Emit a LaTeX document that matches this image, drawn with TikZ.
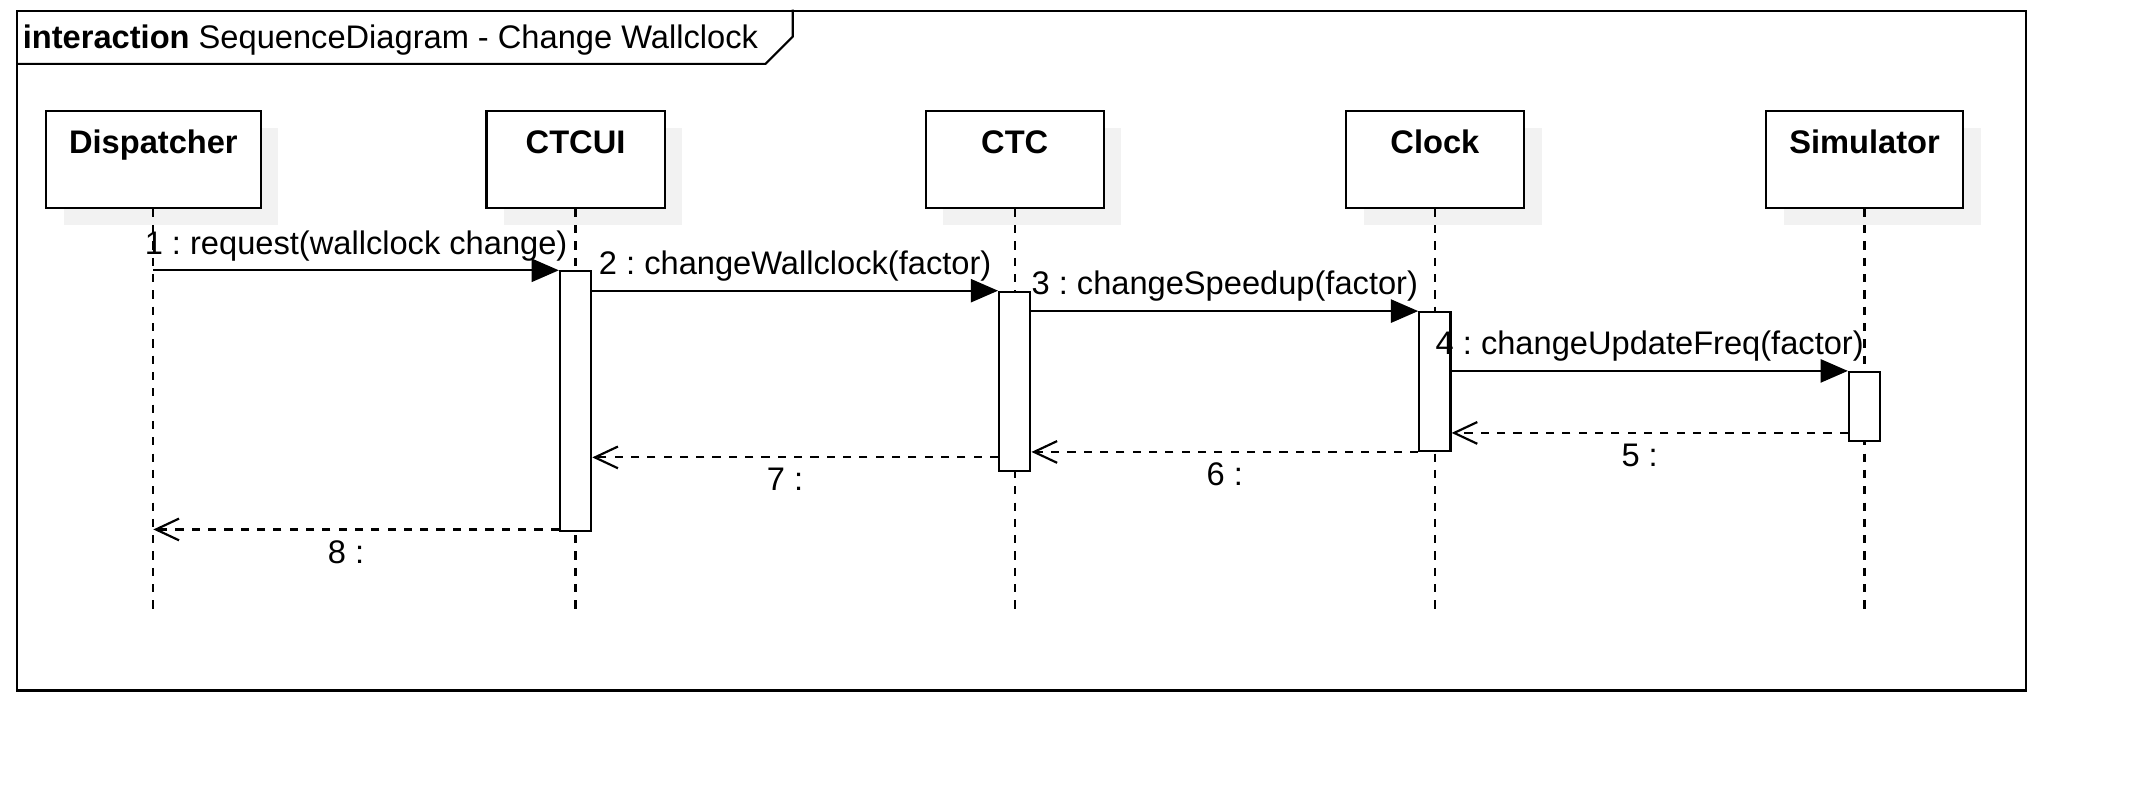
\documentclass[tikz,border=0pt]{standalone}
\usepackage{fontspec}
\setmainfont{Liberation Sans}
\usepackage{tikz}
\usetikzlibrary{positioning, arrows.meta, shadows}
\definecolor{shadowGrey}{HTML}{F2F2F2}
\frenchspacing

\begin{document}
\begin{tikzpicture}[font=\fontsize{12pt}{14pt}\selectfont, line width=0.8pt,
  lifebox/.style={draw, fill=white, minimum height=35.5pt, drop shadow={shadow xshift=6.5pt, shadow yshift=-6.25pt, fill=shadowGrey, opacity=1}},
  lifename/.style={anchor=base, inner sep=0pt, font=\fontsize{12pt}{14pt}\selectfont\bfseries},
  actbox/.style={draw, fill=white, minimum width=11.5pt, inner sep=0pt},
  lifeline/.style={dashed},
  call/.style={-{Triangle[length=10pt, width=8.5pt]}},
  reply/.style={dashed, -{Straight Barb[length=8.5pt, width=8pt]}}]
  \useasboundingbox (0,0) rectangle (784pt,-296pt);
  % frame
  \node[draw, inner sep=0pt, minimum width=738.5pt, minimum height=250pt, anchor=north west] (frame) at (6pt,-3.5pt) {};
  \draw (frame.north west) ++(0,-20pt) -- ++(275.5pt,0) -- ++(10pt,10pt) -- ++(0,10pt);
  \node[anchor=base west, inner sep=0pt] (title) at ([xshift=2pt, yshift=-14.3pt]frame.north west) {\textbf{interaction} SequenceDiagram - Change Wallclock};
  % lifeline heads
  \node[lifebox, minimum width=79pt, anchor=north west] (dispatcher) at ([xshift=10.5pt, yshift=-37pt]frame.north west) {};
  \node[lifebox, minimum width=65.5pt, right=82.2pt of dispatcher] (ctcui) {};
  \node[lifebox, minimum width=65.5pt, right=95.2pt of ctcui] (ctc) {};
  \node[lifebox, minimum width=65.5pt, right=88.2pt of ctc] (clock) {};
  \node[lifebox, minimum width=72.5pt, right=88.2pt of clock] (simulator) {};
  \node[lifename] (dispatcherName) at ([yshift=-15.8pt]dispatcher.north) {Dispatcher};
  \node[lifename] (ctcuiName) at ([yshift=-15.8pt]ctcui.north) {CTCUI};
  \node[lifename] (ctcName) at ([yshift=-15.8pt]ctc.north) {CTC};
  \node[lifename] (clockName) at ([yshift=-15.8pt]clock.north) {Clock};
  \node[lifename] (simulatorName) at ([yshift=-15.8pt]simulator.north) {Simulator};
  % lifelines
  \coordinate (lifeEnd) at ([yshift=30pt]frame.south);
  \draw[lifeline] (dispatcher.south) -- (dispatcher.south |- lifeEnd);
  \draw[lifeline] (ctcui.south) -- (ctcui.south |- lifeEnd);
  \draw[lifeline] (ctc.south) -- (ctc.south |- lifeEnd);
  \draw[lifeline] (clock.south) -- (clock.south |- lifeEnd);
  \draw[lifeline] (simulator.south) -- (simulator.south |- lifeEnd);
  % activations
  \node[actbox, minimum height=95.5pt, below=22.6pt of ctcui] (ctcuiAct) {};
  \node[actbox, minimum height=66pt, below=30.1pt of ctc] (ctcAct) {};
  \node[actbox, minimum height=51pt, below=37.6pt of clock] (clockAct) {};
  \node[actbox, minimum height=25.5pt, below=59.6pt of simulator] (simAct) {};
  % calls
  \draw[call] (dispatcher |- ctcuiAct.north) -- (ctcuiAct.north west) node[midway, above=-0.3pt] (msg1) {1 : request(wallclock change)};
  \draw[call] (ctcuiAct.east |- ctcAct.north) -- (ctcAct.north west) node[midway, above=-0.3pt] (msg2) {2 : changeWallclock(factor)};
  \draw[call] (ctcAct.east |- clockAct.north) -- (clockAct.north west) node[midway, above=-0.3pt] (msg3) {3 : changeSpeedup(factor)};
  \draw[call] (clockAct.east |- simAct.north) -- (simAct.north west) node[midway, above=-0.3pt] (msg4) {4 : changeUpdateFreq(factor)};
  % replies
  \coordinate (ret5) at ([yshift=3.5pt]simAct.south west);
  \coordinate (ret7) at ([yshift=5.5pt]ctcAct.south west);
  \coordinate (ret8) at ([yshift=1pt]ctcuiAct.south west);
  \draw[reply] (ret5) -- (clockAct.east |- ret5) node[midway, below=0.3pt, xshift=-3.7pt] (msg5) {5 :};
  \draw[reply] (clockAct.south west) -- (ctcAct.east |- clockAct.south) node[midway, below=0.3pt] (msg6) {6 :};
  \draw[reply] (ret7) -- (ctcuiAct.east |- ret7) node[midway, below=0.3pt, xshift=-3.7pt] (msg7) {7 :};
  \draw[reply] (ret8) -- (dispatcher |- ret8) node[midway, below=0.3pt, xshift=-3.7pt] (msg8) {8 :};
\end{tikzpicture}
\end{document}
